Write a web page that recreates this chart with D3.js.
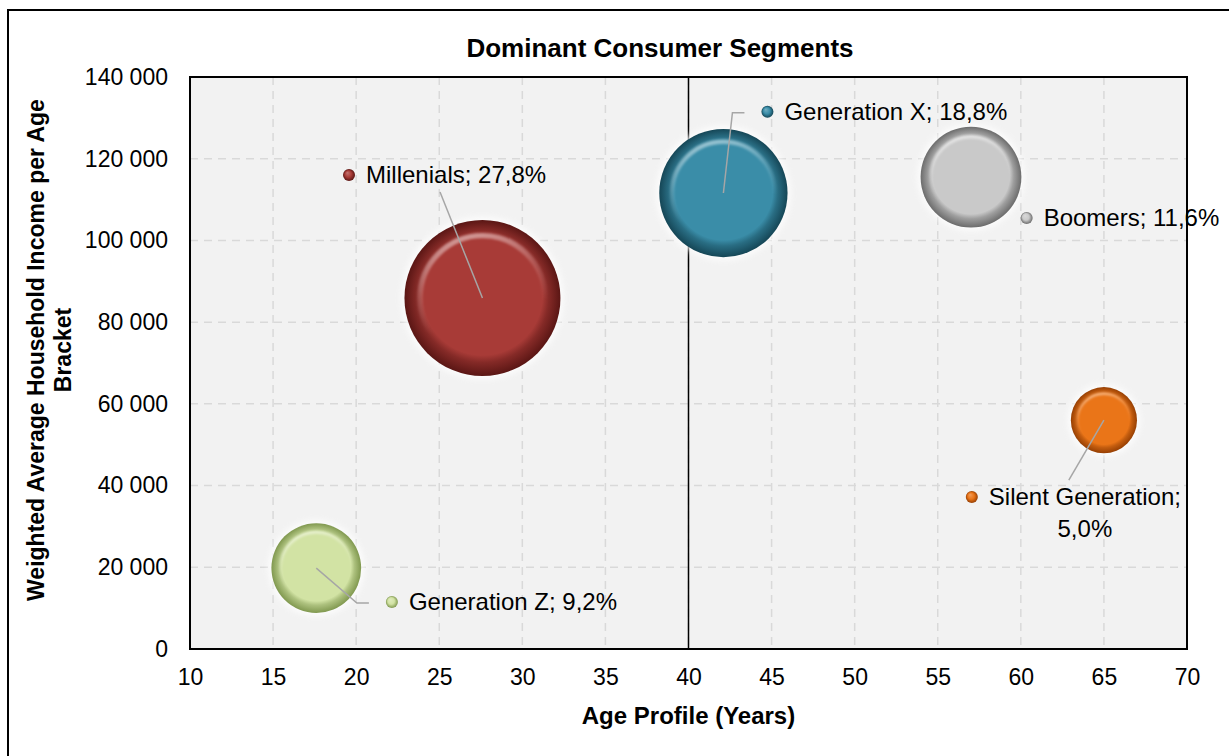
<!DOCTYPE html>
<html>
<head>
<meta charset="utf-8">
<script src="https://cdn.jsdelivr.net/npm/d3@7"></script>
<style>
  body { margin: 0; background: #fff; }
  svg { display: block; font-family: "Liberation Sans", Arial, sans-serif; }
</style>
</head>
<body>
<div id="chart"></div>
<script>
// Data
const segments = ["Millenials", "Generation X", "Boomers", "Silent Generation", "Generation Z"];
const ages = [27.6, 42.1, 57.0, 65.0, 17.6];
const incomes = [85900, 111600, 115500, 56000, 19800];
const shares = [27.8, 18.8, 11.6, 5.0, 9.2];
const xTicks = [10, 15, 20, 25, 30, 35, 40, 45, 50, 55, 60, 65, 70];
const yTicks = [0, 20000, 40000, 60000, 80000, 100000, 120000, 140000];
const refAge = 40;

// colours of each bubble: base, dark rim
const colors = [
  ["#a83b37", "#5a1614"],
  ["#3a8da8", "#154656"],
  ["#c9c9c9", "#6c6c6c"],
  ["#ea7518", "#963f03"],
  ["#d2e3a4", "#80984f"]
];

// where the data labels sit (in chart units) and leader line shape (px from label dot)
const labelAt = [[19.57, 116000], [44.75, 131500], [60.35, 105500], [57.05, 37200], [22.15, 11500]];
const leaders = [
  [[91, 17]],
  [[-35, 1], [-23, 1]],
  [],
  [[97, -17]],
  [[-35, 1], [-23, 1]]
];

const W = 1229, H = 756;
const plot = { left: 190, right: 1187, top: 77, bottom: 649 };

const svg = d3.select("#chart").append("svg")
  .attr("width", W)
  .attr("height", H);

const defs = svg.append("defs");

const x = d3.scaleLinear().domain([10, 70]).range([plot.left, plot.right]);
const y = d3.scaleLinear().domain([0, 140000]).range([plot.bottom, plot.top]);
const r = d3.scaleSqrt().domain([0, 27.8]).range([0, 78]);

// outer chart frame
svg.append("rect")
  .attr("x", 8).attr("y", 10)
  .attr("width", W + 20).attr("height", H + 20)
  .attr("fill", "#fff")
  .attr("stroke", "#000")
  .attr("stroke-width", 2);

// plot background
svg.append("rect")
  .attr("x", plot.left).attr("y", plot.top)
  .attr("width", plot.right - plot.left)
  .attr("height", plot.bottom - plot.top)
  .attr("fill", "#f2f2f2");

// grid
svg.append("g").selectAll("line")
  .data(xTicks.slice(1, -1))
  .join("line")
  .attr("x1", d => x(d)).attr("x2", d => x(d))
  .attr("y1", plot.top).attr("y2", plot.bottom)
  .attr("stroke", "#d9d9d9").attr("stroke-width", 1.5)
  .attr("stroke-dasharray", "8,6");

svg.append("g").selectAll("line")
  .data(yTicks.slice(1, -1))
  .join("line")
  .attr("x1", plot.left).attr("x2", plot.right)
  .attr("y1", d => y(d)).attr("y2", d => y(d))
  .attr("stroke", "#d9d9d9").attr("stroke-width", 1.5)
  .attr("stroke-dasharray", "8,6");

// reference line at 40 years
svg.append("line")
  .attr("x1", x(refAge)).attr("x2", x(refAge))
  .attr("y1", plot.top).attr("y2", plot.bottom)
  .attr("stroke", "#000").attr("stroke-width", 1.5);

// axes
const fmt = d => d3.format(",")(d).replace(/,/g, " ");

svg.append("g")
  .attr("transform", `translate(0,${plot.bottom})`)
  .call(d3.axisBottom(x).tickValues(xTicks).tickSize(0).tickPadding(20))
  .call(g => g.select(".domain").remove())
  .selectAll("text")
  .attr("font-size", 23)
  .attr("font-family", "Liberation Sans, Arial, sans-serif")
  .attr("fill", "#000");

svg.append("g")
  .attr("transform", `translate(${plot.left},0)`)
  .call(d3.axisLeft(y).tickValues(yTicks).tickFormat(fmt).tickSize(0).tickPadding(22))
  .call(g => g.select(".domain").remove())
  .selectAll("text")
  .attr("font-size", 23)
  .attr("font-family", "Liberation Sans, Arial, sans-serif")
  .attr("fill", "#000");

// plot border
svg.append("rect")
  .attr("x", plot.left).attr("y", plot.top)
  .attr("width", plot.right - plot.left)
  .attr("height", plot.bottom - plot.top)
  .attr("fill", "none")
  .attr("stroke", "#000")
  .attr("stroke-width", 2);

// gradients for the "button" bubbles
colors.forEach((c, i) => {
  const base = d3.color(c[0]);
  const light = d3.interpolateRgb(c[0], "#ffffff")(0.3);
  const mid = d3.interpolateRgb(c[0], c[1])(0.45);
  const g = defs.append("radialGradient")
    .attr("id", "bub" + i)
    .attr("cx", "50%").attr("cy", "50%").attr("r", "50%")
    .attr("fx", "50%").attr("fy", "42%");
  g.append("stop").attr("offset", "0%").attr("stop-color", base);
  g.append("stop").attr("offset", "77%").attr("stop-color", base);
  g.append("stop").attr("offset", "85%").attr("stop-color", mid);
  g.append("stop").attr("offset", "100%").attr("stop-color", c[1]);

  const s = defs.append("radialGradient")
    .attr("id", "dot" + i)
    .attr("cx", "50%").attr("cy", "50%").attr("r", "50%")
    .attr("fx", "35%").attr("fy", "30%");
  s.append("stop").attr("offset", "0%").attr("stop-color", light);
  s.append("stop").attr("offset", "55%").attr("stop-color", base);
  s.append("stop").attr("offset", "100%").attr("stop-color", c[1]);
});

// light edge on the upper part of the inner disc
const ring = defs.append("linearGradient")
  .attr("id", "ring")
  .attr("x1", "0").attr("y1", "0").attr("x2", "0.3").attr("y2", "1");
ring.append("stop").attr("offset", "0%").attr("stop-color", "#fff").attr("stop-opacity", 0.55);
ring.append("stop").attr("offset", "45%").attr("stop-color", "#fff").attr("stop-opacity", 0.15);
ring.append("stop").attr("offset", "75%").attr("stop-color", "#fff").attr("stop-opacity", 0);

defs.append("filter").attr("id", "glow")
  .attr("x", "-20%").attr("y", "-20%").attr("width", "140%").attr("height", "140%")
  .append("feGaussianBlur").attr("stdDeviation", 3);

defs.append("filter").attr("id", "soft")
  .append("feGaussianBlur").attr("stdDeviation", 1.2);

const idx = d3.range(segments.length);

// soft white halo
svg.append("g").selectAll("circle")
  .data(idx)
  .join("circle")
  .attr("cx", i => x(ages[i]))
  .attr("cy", i => y(incomes[i]))
  .attr("r", i => r(shares[i]) + 3)
  .attr("fill", "#fff")
  .attr("opacity", 0.8)
  .attr("filter", "url(#glow)");

svg.append("g").selectAll("circle")
  .data(idx)
  .join("circle")
  .attr("cx", i => x(ages[i]))
  .attr("cy", i => y(incomes[i]))
  .attr("r", i => r(shares[i]))
  .attr("fill", i => `url(#bub${i})`);

svg.append("g").selectAll("circle")
  .data(idx)
  .join("circle")
  .attr("cx", i => x(ages[i]))
  .attr("cy", i => y(incomes[i]))
  .attr("r", i => r(shares[i]) * 0.8)
  .attr("fill", "none")
  .attr("stroke", "url(#ring)")
  .attr("stroke-width", i => r(shares[i]) * 0.07)
  .attr("filter", "url(#soft)");

// leader lines
svg.append("g").selectAll("path")
  .data(idx.filter(i => leaders[i].length))
  .join("path")
  .attr("d", i => {
    const lx = x(labelAt[i][0]), ly = y(labelAt[i][1]);
    const pts = [[x(ages[i]), y(incomes[i])]].concat(leaders[i].map(p => [lx + p[0], ly + p[1]]));
    return d3.line()(pts);
  })
  .attr("fill", "none")
  .attr("stroke", "#a6a6a6")
  .attr("stroke-width", 1.5);

// data labels with a small key dot
const lab = svg.append("g").selectAll("g")
  .data(idx)
  .join("g")
  .attr("transform", i => `translate(${x(labelAt[i][0])},${y(labelAt[i][1])})`);

lab.append("circle")
  .attr("r", 6)
  .attr("fill", i => `url(#dot${i})`);

lab.each(function (i) {
  const g = d3.select(this);
  const txt = `${segments[i]}; ${d3.format(".1f")(shares[i]).replace(".", ",")}%`;
  if (segments[i] === "Silent Generation") {
    const parts = txt.split("; ");
    const t1 = g.append("text")
      .attr("x", 17).attr("dy", "0.35em")
      .attr("font-size", 24)
      .text(parts[0] + ";");
    const w = t1.node().getComputedTextLength();
    t1.attr("x", 17 + w / 2).attr("text-anchor", "middle");
    g.append("text")
      .attr("x", 17 + w / 2).attr("y", 32).attr("dy", "0.35em")
      .attr("text-anchor", "middle")
      .attr("font-size", 24)
      .text(parts[1]);
  } else {
    g.append("text")
      .attr("x", 17).attr("dy", "0.35em")
      .attr("font-size", 24)
      .text(txt);
  }
});

// titles
svg.append("text")
  .attr("x", 660).attr("y", 57)
  .attr("text-anchor", "middle")
  .attr("font-size", 26)
  .attr("font-weight", "bold")
  .text("Dominant Consumer Segments");

svg.append("text")
  .attr("x", (plot.left + plot.right) / 2).attr("y", 724)
  .attr("text-anchor", "middle")
  .attr("font-size", 24)
  .attr("font-weight", "bold")
  .text("Age Profile (Years)");

const yt = svg.append("text")
  .attr("transform", `translate(44,${(plot.top + plot.bottom) / 2 - 13}) rotate(-90)`)
  .attr("text-anchor", "middle")
  .attr("font-size", 23)
  .attr("font-weight", "bold");
yt.append("tspan").attr("x", 0).attr("y", 0).text("Weighted Average Household Income per Age");
yt.append("tspan").attr("x", 0).attr("y", 27).text("Bracket");
</script>
</body>
</html>
